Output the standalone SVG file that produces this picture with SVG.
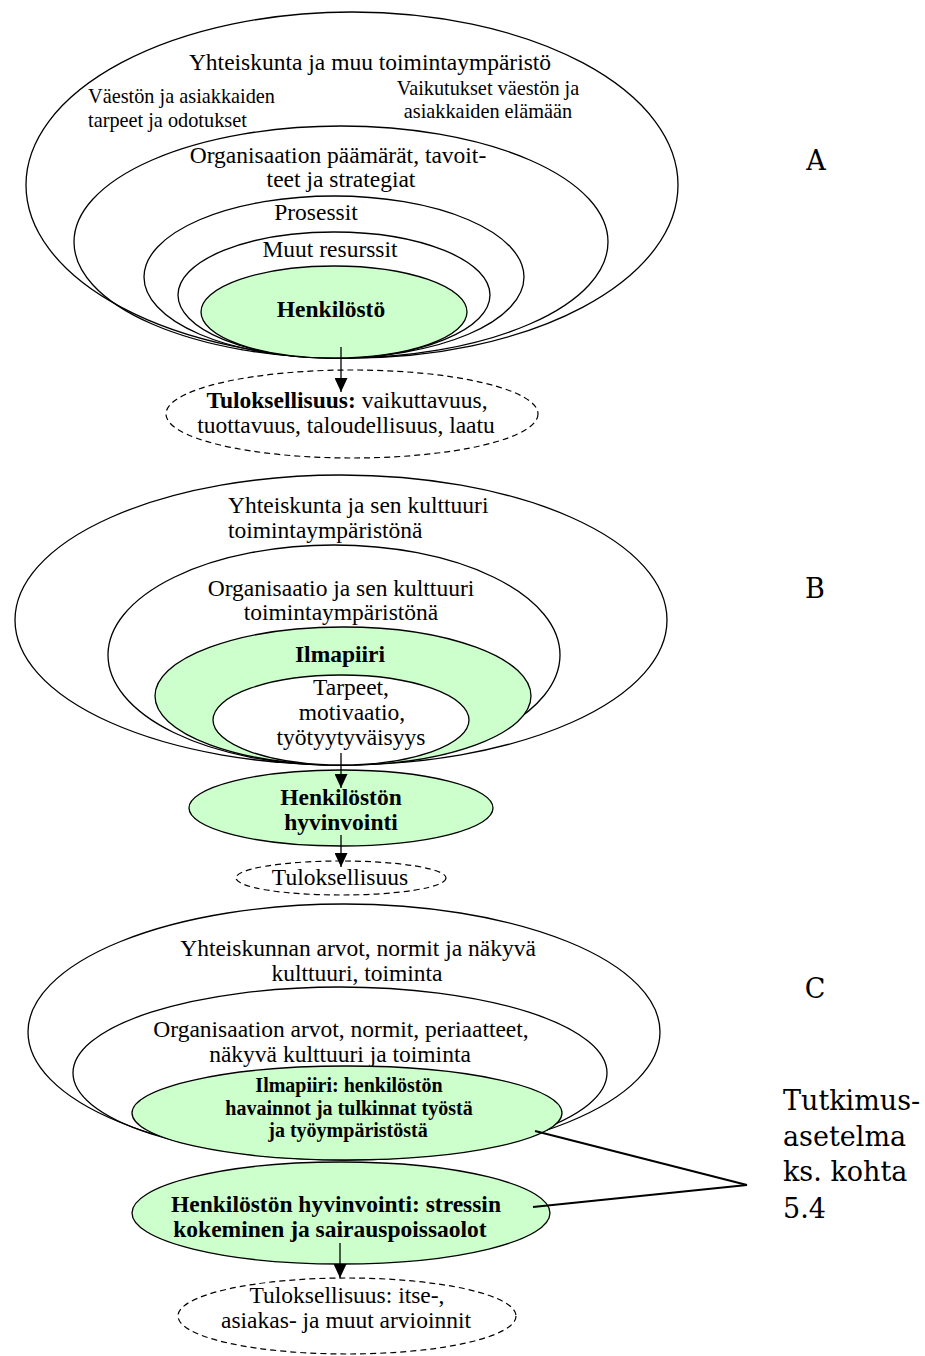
<svg xmlns="http://www.w3.org/2000/svg" width="925" height="1356" viewBox="0 0 925 1356">
  <defs>
    <marker id="arrow" viewBox="0 0 14 13" refX="14" refY="6.5" markerWidth="14" markerHeight="13" markerUnits="userSpaceOnUse" orient="auto">
      <path d="M0,0 L14,6.5 L0,13 Z" fill="#000"/>
    </marker>
  </defs>
  <style>
    .ring { fill: none; stroke: #000; stroke-width: 1.3; }
    .white { fill: #fff; stroke: #000; stroke-width: 1.3; }
    .green { fill: #ccffcc; stroke: #000; stroke-width: 1.3; }
    .dash { fill: #fff; stroke: #000; stroke-width: 1.2; stroke-dasharray: 6 4; }
    .t { font-family: "Liberation Serif", "Times New Roman", serif; font-size: 23.5px; fill: #000; text-anchor: middle; }
    .l { text-anchor: start; }
    .s { font-size: 20.3px; }
    .b { font-weight: bold; }
    .sb { font-weight: bold; font-size: 20px; }
    .lbl { font-family: "DejaVu Serif", serif; font-size: 27px; fill: #000; }
    .mid { text-anchor: middle; }
    .arr { stroke: #000; stroke-width: 1.3; fill: none; marker-end: url(#arrow); }
    .lead { stroke: #000; stroke-width: 2; fill: none; }
  </style>

  <rect width="925" height="1356" fill="#fff"/>

  <!-- Model A: nested environment of the staff -->
  <g id="a-society">
    <ellipse class="ring" cx="352" cy="185" rx="326" ry="173"/>
    <text class="t" x="370" y="70">Yhteiskunta ja muu toimintaympäristö</text>
    <text class="t s l" x="88" y="103">Väestön ja asiakkaiden</text>
    <text class="t s l" x="88" y="127">tarpeet ja odotukset</text>
    <text class="t s" x="488" y="95">Vaikutukset väestön ja</text>
    <text class="t s" x="488" y="118">asiakkaiden elämään</text>
  </g>
  <g id="a-organisation">
    <ellipse class="ring" cx="341" cy="242" rx="267" ry="116"/>
    <text class="t" x="338" y="163">Organisaation päämärät, tavoit-</text>
    <text class="t" x="341" y="187">teet ja strategiat</text>
  </g>
  <g id="a-processes">
    <ellipse class="ring" cx="334" cy="277" rx="190" ry="81"/>
    <text class="t" x="316" y="220">Prosessit</text>
  </g>
  <g id="a-resources">
    <ellipse class="ring" cx="334" cy="295" rx="156" ry="63"/>
    <text class="t" x="330" y="257">Muut resurssit</text>
  </g>
  <g id="a-staff">
    <ellipse class="green" cx="334" cy="312" rx="133" ry="46"/>
    <text class="t b" x="331" y="317">Henkilöstö</text>
  </g>
  <g id="a-result">
    <ellipse class="dash" cx="352" cy="414" rx="186" ry="44"/>
    <text class="t" x="347" y="408"><tspan class="b">Tuloksellisuus:</tspan> vaikuttavuus,</text>
    <text class="t" x="346" y="433">tuottavuus, taloudellisuus, laatu</text>
  </g>
  <text class="lbl mid" x="816" y="170">A</text>

  <!-- Model B: culture, climate and wellbeing -->
  <g id="b-society">
    <ellipse class="ring" cx="341" cy="620" rx="326" ry="145"/>
    <text class="t l" x="228" y="513">Yhteiskunta ja sen kulttuuri</text>
    <text class="t l" x="228" y="538">toimintaympäristönä</text>
  </g>
  <g id="b-organisation">
    <ellipse class="ring" cx="334" cy="655" rx="226" ry="110"/>
    <text class="t" x="341" y="596">Organisaatio ja sen kulttuuri</text>
    <text class="t" x="341" y="620">toimintaympäristönä</text>
  </g>
  <g id="b-climate">
    <ellipse class="green" cx="343" cy="696" rx="188" ry="69"/>
    <text class="t b" x="340" y="662">Ilmapiiri</text>
  </g>
  <g id="b-needs">
    <ellipse class="white" cx="341" cy="720" rx="128" ry="45"/>
    <text class="t" x="351" y="695">Tarpeet,</text>
    <text class="t" x="352" y="720">motivaatio,</text>
    <text class="t" x="351" y="745">työtyytyväisyys</text>
  </g>
  <g id="b-wellbeing">
    <ellipse class="green" cx="341" cy="808" rx="152" ry="38"/>
    <text class="t b" x="341" y="805">Henkilöstön</text>
    <text class="t b" x="341" y="830">hyvinvointi</text>
  </g>
  <g id="b-result">
    <ellipse class="dash" cx="341" cy="878" rx="105" ry="17"/>
    <text class="t" x="340" y="885">Tuloksellisuus</text>
  </g>
  <text class="lbl mid" x="815" y="598">B</text>

  <!-- Model C: research setting -->
  <g id="c-society">
    <ellipse class="ring" cx="344" cy="1032" rx="316" ry="128"/>
    <text class="t" x="358" y="956">Yhteiskunnan arvot, normit ja näkyvä</text>
    <text class="t" x="357" y="981">kulttuuri, toiminta</text>
  </g>
  <g id="c-organisation">
    <ellipse class="ring" cx="340" cy="1073" rx="267" ry="86"/>
    <text class="t" x="341" y="1037">Organisaation arvot, normit, periaatteet,</text>
    <text class="t" x="340" y="1062">näkyvä kulttuuri ja toiminta</text>
  </g>
  <g id="c-climate">
    <ellipse class="green" cx="347" cy="1113" rx="215" ry="47"/>
    <text class="t sb" x="349" y="1092">Ilmapiiri: henkilöstön</text>
    <text class="t sb" x="349" y="1115">havainnot ja tulkinnat työstä</text>
    <text class="t sb" x="348" y="1137">ja työympäristöstä</text>
  </g>
  <g id="c-wellbeing">
    <ellipse class="green" cx="341" cy="1213" rx="209" ry="51"/>
    <text class="t b" x="336" y="1212">Henkilöstön hyvinvointi: stressin</text>
    <text class="t b" x="330" y="1237">kokeminen ja sairauspoissaolot</text>
  </g>
  <g id="c-result">
    <ellipse class="dash" cx="347" cy="1316" rx="169" ry="38"/>
    <text class="t" x="347" y="1303">Tuloksellisuus: itse-,</text>
    <text class="t" x="346" y="1328">asiakas- ja muut arvioinnit</text>
  </g>
  <text class="lbl mid" x="815" y="998">C</text>

  <g id="c-design-note">
    <text class="lbl" x="783" y="1110">Tutkimus-</text>
    <text class="lbl" x="783" y="1146">asetelma</text>
    <text class="lbl" x="783" y="1181">ks. kohta</text>
    <text class="lbl" x="783" y="1218">5.4</text>
  </g>

  <!-- Connectors -->
  <g id="connectors">
    <line class="arr" x1="341" y1="347" x2="341" y2="392"/>
    <line class="arr" x1="341" y1="753" x2="341" y2="788"/>
    <line class="arr" x1="341" y1="835" x2="341" y2="867"/>
    <line class="arr" x1="340" y1="1243" x2="340" y2="1278"/>
    <line class="lead" x1="535" y1="1131" x2="747" y2="1185"/>
    <line class="lead" x1="533" y1="1207" x2="747" y2="1185"/>
  </g>
</svg>
